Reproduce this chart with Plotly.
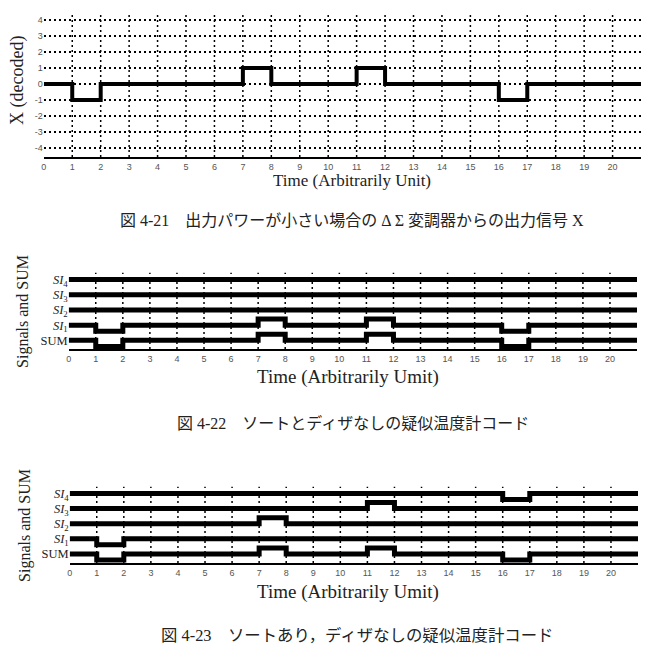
import plotly.graph_objects as go

W, H = 645, 658

# ---------------- data ----------------
time_edges = list(range(0, 22))          # interval edges 0..21
x_tick_vals = list(range(0, 21))
x_tick_text = [str(v) for v in x_tick_vals]

# Fig 4-21 : decoded output X per time slot [t, t+1)
x_decoded = [0, -1, 0, 0, 0, 0, 0, 1, 0, 0, 0, 1, 0, 0, 0, 0, -1, 0, 0, 0, 0]
y1_tick_vals = [4, 3, 2, 1, 0, -1, -2, -3, -4]

# Fig 4-22 : no sorting, no dither
f22_sum = [0, -1, 0, 0, 0, 0, 0, 1, 0, 0, 0, 1, 0, 0, 0, 0, -1, 0, 0, 0, 0]
f22_si1 = [0, -1, 0, 0, 0, 0, 0, 1, 0, 0, 0, 1, 0, 0, 0, 0, -1, 0, 0, 0, 0]
f22_si2 = [0, 0, 0, 0, 0, 0, 0, 0, 0, 0, 0, 0, 0, 0, 0, 0, 0, 0, 0, 0, 0]
f22_si3 = [0, 0, 0, 0, 0, 0, 0, 0, 0, 0, 0, 0, 0, 0, 0, 0, 0, 0, 0, 0, 0]
f22_si4 = [0, 0, 0, 0, 0, 0, 0, 0, 0, 0, 0, 0, 0, 0, 0, 0, 0, 0, 0, 0, 0]

# Fig 4-23 : sorting, no dither
f23_sum = [0, -1, 0, 0, 0, 0, 0, 1, 0, 0, 0, 1, 0, 0, 0, 0, -1, 0, 0, 0, 0]
f23_si1 = [0, -1, 0, 0, 0, 0, 0, 0, 0, 0, 0, 0, 0, 0, 0, 0, 0, 0, 0, 0, 0]
f23_si2 = [0, 0, 0, 0, 0, 0, 0, 1, 0, 0, 0, 0, 0, 0, 0, 0, 0, 0, 0, 0, 0]
f23_si3 = [0, 0, 0, 0, 0, 0, 0, 0, 0, 0, 0, 1, 0, 0, 0, 0, 0, 0, 0, 0, 0]
f23_si4 = [0, 0, 0, 0, 0, 0, 0, 0, 0, 0, 0, 0, 0, 0, 0, 0, -1, 0, 0, 0, 0]

lane_labels = ["SUM", "<i>SI</i><sub>1</sub>", "<i>SI</i><sub>2</sub>",
               "<i>SI</i><sub>3</sub>", "<i>SI</i><sub>4</sub>"]

captions = [
    "図 4-21　出力パワーが小さい場合の Δ Σ 変調器からの出力信号 X",
    "図 4-22　ソートとディザなしの疑似温度計コード",
    "図 4-23　ソートあり，ディザなしの疑似温度計コード",
]

# ---------------- helpers ----------------
def px(x):
    return x / W

def py(y):
    return 1 - y / H

STEP = 0.4   # lane deflection for +/-1

def stepped(vals):
    return vals + [vals[-1]]

SERIF = "Liberation Serif, Times New Roman, serif"
CAPFONT = "Liberation Serif, Noto Sans CJK JP, serif"
TICKFONT = dict(family="Liberation Sans, Arial, sans-serif", size=9, color="#555")
DOT = "2px,3px"

fig = go.Figure()

# panel 1
fig.add_trace(go.Scatter(x=time_edges, y=stepped(x_decoded), mode="lines",
                         line=dict(color="black", width=4, shape="hv"),
                         xaxis="x", yaxis="y"))

# panels 2 & 3
for (sigs, xa, ya) in [
    ([f22_sum, f22_si1, f22_si2, f22_si3, f22_si4], "x2", "y2"),
    ([f23_sum, f23_si1, f23_si2, f23_si3, f23_si4], "x3", "y3"),
]:
    for lane, s in enumerate(sigs):
        fig.add_trace(go.Scatter(x=time_edges,
                                 y=[lane + STEP * v for v in stepped(s)],
                                 mode="lines",
                                 line=dict(color="black", width=5, shape="hv"),
                                 xaxis=xa, yaxis=ya))

xcommon = dict(range=[0, 21], tickmode="array", tickvals=x_tick_vals,
               ticktext=x_tick_text, showgrid=False, zeroline=False,
               showline=True, linecolor="black", linewidth=1.5,
               ticks="", tickfont=TICKFONT, fixedrange=True)

lanefont = dict(family=SERIF, size=12.5, color="#222")

fig.update_layout(
    width=W, height=H, margin=dict(l=0, r=0, t=0, b=0),
    paper_bgcolor="white", plot_bgcolor="white", showlegend=False,
    xaxis=dict(domain=[px(41), px(641)], anchor="y", **xcommon),
    yaxis=dict(domain=[py(157), py(12)], range=[-4.56, 4.5], anchor="x",
               tickmode="array", tickvals=y1_tick_vals,
               ticktext=[str(v) for v in y1_tick_vals],
               showgrid=True, gridcolor="black", gridwidth=1.5, griddash=DOT,
               zeroline=False, showline=False, ticks="", tickfont=TICKFONT,
               fixedrange=True),
    xaxis2=dict(domain=[px(66), px(637)], anchor="y2", **xcommon),
    yaxis2=dict(domain=[py(349), py(272.7)], range=[-0.57, 4.45], anchor="x2",
                tickmode="array", tickvals=[0, 1, 2, 3, 4], ticktext=lane_labels,
                showgrid=False, zeroline=False, showline=False, ticks="",
                tickfont=lanefont, fixedrange=True),
    xaxis3=dict(domain=[px(67), px(638)], anchor="y3", **xcommon),
    yaxis3=dict(domain=[py(563), py(486.7)], range=[-0.6, 4.45], anchor="x3",
                tickmode="array", tickvals=[0, 1, 2, 3, 4], ticktext=lane_labels,
                showgrid=False, zeroline=False, showline=False, ticks="",
                tickfont=lanefont, fixedrange=True),
)

# dotted vertical grid lines at t = 1..20
for xa, ya in [("x", "y"), ("x2", "y2"), ("x3", "y3")]:
    for t in x_tick_vals[1:]:
        fig.add_shape(type="line", xref=xa, yref=ya + " domain",
                      x0=t, x1=t, y0=0, y1=1, layer="below",
                      line=dict(color="black", width=1.5, dash=DOT))

ann = []
# axis titles
ann.append(dict(text="X (decoded)", x=px(14), y=py(80), textangle=-90,
                font=dict(family=SERIF, size=18, color="#222")))
ann.append(dict(text="Time (Arbitrarily Unit)", x=px(351), y=py(180),
                font=dict(family=SERIF, size=17, color="#222")))
ann.append(dict(text="Signals and SUM", x=px(20), y=py(311), textangle=-90,
                font=dict(family=SERIF, size=16, color="#222")))
ann.append(dict(text="Time (Arbitrarily Umit)", x=px(347), y=py(377),
                font=dict(family=SERIF, size=19, color="#222")))
ann.append(dict(text="Signals and SUM", x=px(22), y=py(525), textangle=-90,
                font=dict(family=SERIF, size=16, color="#222")))
ann.append(dict(text="Time (Arbitrarily Umit)", x=px(347), y=py(592),
                font=dict(family=SERIF, size=19, color="#222")))
# captions
for txt, x0, y0, fs in zip(captions, [116, 173, 157], [220, 423, 635],
                           [16, 16, 16.4]):
    ann.append(dict(text=txt, x=px(x0), y=py(y0), xanchor="left",
                    font=dict(family=CAPFONT, size=fs, color="#222")))

for a in ann:
    a.setdefault("xanchor", "center")
    a.update(xref="paper", yref="paper", yanchor="middle", showarrow=False)
fig.update_layout(annotations=ann)

fig.write_html("out.html")
